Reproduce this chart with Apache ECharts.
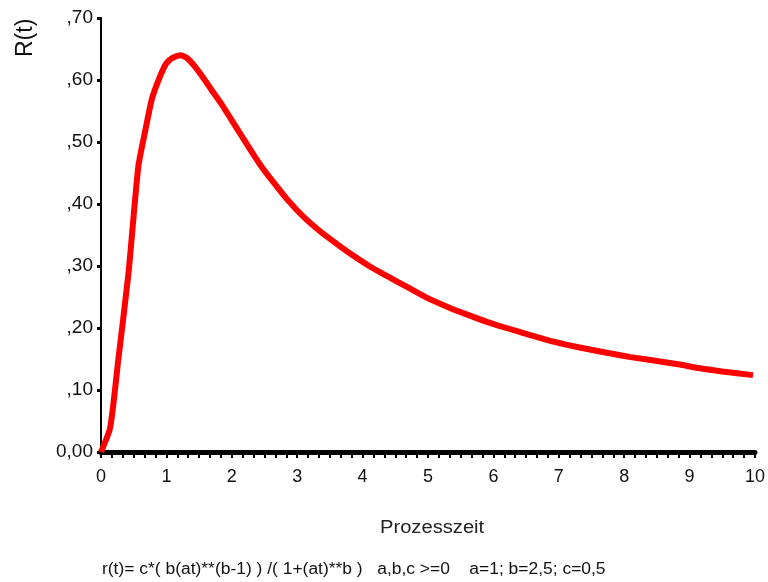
<!DOCTYPE html>
<html>
<head>
<meta charset="utf-8">
<script src="https://cdn.jsdelivr.net/npm/echarts@6/dist/echarts.min.js"></script>
<style>html,body{margin:0;padding:0;background:#fff;}#c{width:768px;height:582px;}</style>
</head>
<body>
<div id="c"></div>
<script>
// Data
var times = [0, 0.14, 0.27, 0.42, 0.57, 0.68, 0.78, 0.9, 1.0, 1.1, 1.22, 1.33, 1.44, 1.56, 1.69, 1.85, 2.0, 2.15, 2.3, 2.45, 2.63, 2.85, 3.09, 3.35, 3.6, 3.81, 4.1, 4.37, 4.7, 4.98, 5.3, 5.59, 5.9, 6.2, 6.55, 6.92, 7.3, 7.73, 8.1, 8.55, 8.85, 9.16, 9.5, 9.97];
var rValues = [0, 0.039, 0.154, 0.288, 0.46, 0.52, 0.57, 0.605, 0.627, 0.636, 0.64, 0.634, 0.621, 0.604, 0.584, 0.56, 0.535, 0.51, 0.485, 0.461, 0.436, 0.407, 0.38, 0.356, 0.336, 0.32, 0.3, 0.284, 0.265, 0.249, 0.234, 0.222, 0.21, 0.2, 0.189, 0.178, 0.169, 0.16, 0.153, 0.146, 0.141, 0.135, 0.13, 0.124];
var yTickLabels = {"0": "0,00", "0.1": ",10", "0.2": ",20", "0.3": ",30", "0.4": ",40", "0.5": ",50", "0.6": ",60", "0.7": ",70"};
var xTitle = "Prozesszeit";
var yTitle = "R(t)";
var footnote = "r(t)= c*( b(at)**(b-1) ) /( 1+(at)**b )   a,b,c >=0    a=1; b=2,5; c=0,5";

var pts = times.map(function (t, i) { return [t, rValues[i]]; });
var chart = echarts.init(document.getElementById('c'));
var font = 'Liberation Sans, Arial, sans-serif';
chart.setOption({
  backgroundColor: '#fff',
  animation: false,
  grid: {left: 101, right: 13, top: 18, bottom: 130},
  xAxis: {
    type: 'value', min: 0, max: 10, interval: 1,
    axisLine: {show: true, lineStyle: {color: '#000', width: 5}},
    axisTick: {show: true, length: 6, lineStyle: {color: '#000', width: 2}},
    minorTick: {show: true, splitNumber: 6, length: 6, lineStyle: {color: '#000', width: 2}},
    splitLine: {show: false},
    axisLabel: {color: '#111', fontSize: 18, fontFamily: font, margin: 16}
  },
  yAxis: {
    type: 'value', min: 0, max: 0.7, interval: 0.1,
    axisLine: {show: true, lineStyle: {color: '#000', width: 2}},
    axisTick: {show: true, length: 4, lineStyle: {color: '#000', width: 3}},
    splitLine: {show: false},
    axisLabel: {color: '#111', fontSize: 19, fontFamily: font, margin: 8,
      formatter: function (v) { return yTickLabels[String(Math.round(v * 10) / 10)] || ''; }}
  },
  series: [{
    type: 'line', data: pts, showSymbol: false, smooth: 0.2,
    lineStyle: {color: '#f00', width: 6}
  }],
  graphic: [
    {type: 'text', x: 380, y: 528, scaleX: 1.12,
      style: {text: xTitle, font: '18px ' + font, fill: '#222', align: 'left', verticalAlign: 'middle'}},
    {type: 'text', x: 14, y: 57, rotation: Math.PI / 2,
      style: {text: yTitle, font: '23px ' + font, fill: '#111', align: 'left', verticalAlign: 'top'}},
    {type: 'text', x: 102, y: 570, scaleX: 1.09,
      style: {text: footnote, font: '16px ' + font, fill: '#111', align: 'left', verticalAlign: 'middle'}}
  ]
});
</script>
</body>
</html>
